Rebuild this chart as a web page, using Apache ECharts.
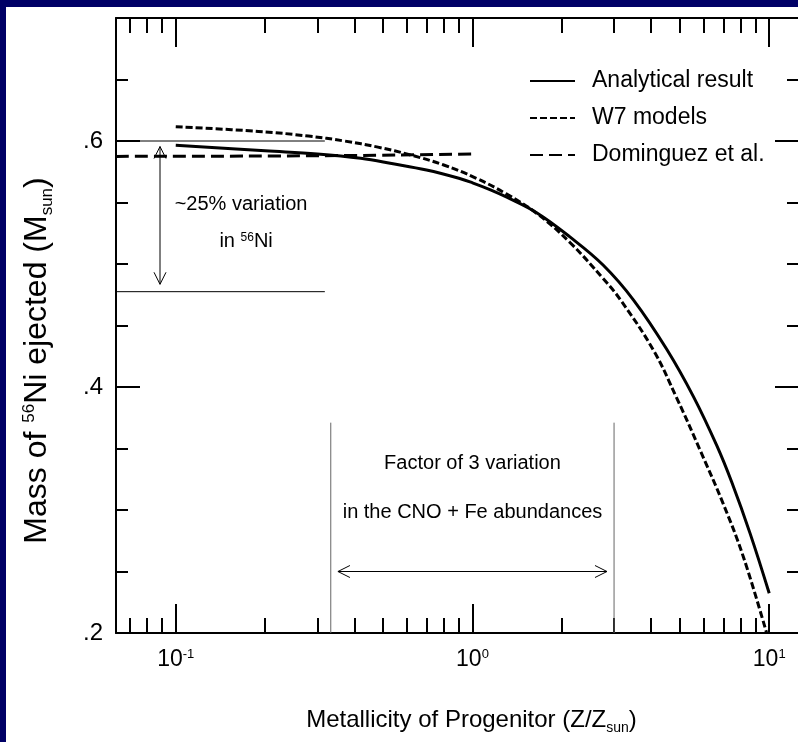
<!DOCTYPE html>
<html><head><meta charset="utf-8">
<script src="https://cdn.jsdelivr.net/npm/echarts@6/dist/echarts.min.js"></script>
<style>
html,body{margin:0;padding:0;width:798px;height:742px;overflow:hidden;background:#000066;}
#c{position:absolute;left:6px;top:7px;width:800px;height:735px;background:#fff;}
</style></head><body><div id="c"></div>
<script>
// ---------- data ----------
const xMin = 0.0629, xMax = 12.6;
const yMin = 0.2, yMax = 0.7;
const xMajorTicks = [0.1, 1, 10];
const xMinorTicks = [0.07,0.08,0.09,0.2,0.3,0.4,0.5,0.6,0.7,0.8,0.9,2,3,4,5,6,7,8,9];
const yMajorStep = 0.2, yMinorStep = 0.05;
const seriesNames = ['Analytical result', 'W7 models', 'Dominguez et al.'];

const analyticX = [0.1,0.2,0.3,0.42,0.54,0.7,0.9,1.0,1.15,1.3,1.65,2.13,2.76,3.49,4.52,5.56,6.66,7.48,8.62,10];
const analyticY = [0.5965,0.592,0.5895,0.586,0.5815,0.5764,0.5697,0.566,0.5603,0.5545,0.5415,0.522,0.499,0.4707,0.4305,0.392,0.3523,0.3225,0.281,0.2323];

const w7X = [0.1,0.19,0.28,0.37,0.48,0.62,0.8,1.03,1.3,1.65,2.13,2.76,3.15,4.07,4.88,5.84,7.0,8.18,9.8];
const w7Y = [0.6116,0.6078,0.604,0.600,0.595,0.5886,0.5805,0.5697,0.557,0.541,0.5175,0.488,0.471,0.430,0.391,0.349,0.305,0.262,0.2];

const domX = [0.0629, 0.3, 1.0];
const domY = [0.5875, 0.588, 0.5895];

// annotation segments [x1, y1, x2, y2]
const refLines = [[0.0629,0.6,0.318,0.6],[0.0629,0.4775,0.318,0.4775]];
const rangeLines = [[0.333,0.2,0.333,0.371],[3,0.2,3,0.371]];
const arrowLines = [[0.0885,0.5955,0.0885,0.4835],[0.352,0.25,2.84,0.25]];

const noteTexts = ['~25% variation', 'in {sup|56}Ni', 'Factor of 3 variation', 'in the CNO + Fe abundances'];
const noteX = [0.166, 0.1726, 1.0, 1.0];
const noteY = [0.548, 0.518, 0.338, 0.2976];

// ---------- chart ----------
const FONT = '"Liberation Sans",Arial,sans-serif';
const zip = (a, b) => a.map((v, i) => [v, b[i]]);

function xAxisDef(pos, major) {
  const vals = major ? xMajorTicks : xMinorTicks;
  const ax = {
    type: 'log', logBase: 10, position: pos, min: xMin, max: xMax,
    axisLine: { show: major, onZero: false, lineStyle: { color: '#000', width: 2 } },
    axisTick: { show: true, inside: true, length: major ? 29 : 15, customValues: vals,
                lineStyle: { color: '#000', width: 2 } },
    axisLabel: { show: false },
    splitLine: { show: false }, minorTick: { show: false }, silent: true
  };
  if (major && pos === 'bottom') {
    ax.axisLabel = {
      show: true, customValues: xMajorTicks, margin: 15, color: '#000',
      formatter: v => '{b|10}{e|' + Math.round(Math.log10(v)) + '}',
      rich: {
        b: { fontSize: 23, fontFamily: FONT, color: '#000', lineHeight: 25, verticalAlign: 'top' },
        e: { fontSize: 13, fontFamily: FONT, color: '#000', lineHeight: 13, verticalAlign: 'top' }
      }
    };
    ax.name = '{m|Metallicity of Progenitor (Z/Z}{s|sun}{m|)}';
    ax.nameLocation = 'middle';
    ax.nameGap = 75;
    ax.nameTextStyle = {
      padding: [0, 0, 0, 28],
      rich: {
        m: { fontSize: 24, fontFamily: FONT, color: '#000', lineHeight: 26, verticalAlign: 'top' },
        s: { fontSize: 14, fontFamily: FONT, color: '#000', lineHeight: 14, verticalAlign: 'top', padding: [13, 0, 0, 0] }
      }
    };
  }
  return ax;
}

function yAxisDef(pos, major) {
  const ax = {
    type: 'value', position: pos, min: yMin, max: yMax,
    interval: major ? yMajorStep : yMinorStep,
    axisLine: { show: major, onZero: false, lineStyle: { color: '#000', width: 2 } },
    axisTick: { show: true, inside: true, length: major ? 24 : 12, lineStyle: { color: '#000', width: 2 } },
    axisLabel: { show: false },
    splitLine: { show: false }, silent: true
  };
  if (major && pos === 'left') {
    ax.axisLabel = {
      show: true, margin: 13, color: '#000', fontSize: 24, fontFamily: FONT,
      showMaxLabel: false,
      formatter: v => '.' + Math.round(v * 10)
    };
    ax.name = '{m|Mass of }{p|56}{m|Ni ejected (M}{s|sun}{m|)}';
    ax.nameLocation = 'middle';
    ax.nameGap = 61;
    ax.nameTextStyle = {
      padding: [0, 70, 0, 0],
      rich: {
        m: { fontSize: 32, fontFamily: FONT, color: '#000', lineHeight: 34, verticalAlign: 'top' },
        p: { fontSize: 17, fontFamily: FONT, color: '#000', lineHeight: 17, verticalAlign: 'top' },
        s: { fontSize: 17, fontFamily: FONT, color: '#000', lineHeight: 17, verticalAlign: 'top', padding: [18, 0, 0, 0] }
      }
    };
  }
  return ax;
}

function segRenderer(color, heads) {
  return function (params, api) {
    const a = api.coord([api.value(0), api.value(1)]);
    const b = api.coord([api.value(2), api.value(3)]);
    const children = [{
      type: 'line', shape: { x1: a[0], y1: a[1], x2: b[0], y2: b[1] },
      style: { stroke: color, lineWidth: 1 }
    }];
    if (heads) {
      const dx = b[0] - a[0], dy = b[1] - a[1];
      const len = Math.sqrt(dx * dx + dy * dy);
      const ux = dx / len, uy = dy / len, nx = -uy, ny = ux;
      const L = 12, W = 6;
      [[b, 1], [a, -1]].forEach(([p, s]) => {
        children.push({
          type: 'polyline',
          shape: { points: [
            [p[0] - s * ux * L + nx * W, p[1] - s * uy * L + ny * W],
            [p[0], p[1]],
            [p[0] - s * ux * L - nx * W, p[1] - s * uy * L - ny * W]
          ] },
          style: { stroke: color, lineWidth: 1, fill: null }
        });
      });
    }
    return { type: 'group', children };
  };
}

const chart = echarts.init(document.getElementById('c'), null, { renderer: 'canvas' });
chart.setOption({
  animation: false,
  backgroundColor: '#fff',
  textStyle: { fontFamily: FONT },
  grid: { left: 110, right: 7, top: 11, bottom: 109, containLabel: false, outerBoundsMode: 'none' },
  xAxis: [xAxisDef('bottom', true), xAxisDef('bottom', false), xAxisDef('top', true), xAxisDef('top', false)],
  yAxis: [yAxisDef('left', true), yAxisDef('left', false), yAxisDef('right', true), yAxisDef('right', false)],
  legend: {
    data: seriesNames, orient: 'vertical', left: 518, top: 56,
    itemWidth: 45, itemHeight: 14, itemGap: 11, selectedMode: false,
    textStyle: { fontSize: 23, lineHeight: 26, fontFamily: FONT, color: '#000', padding: [0, 0, 0, 12] },
    itemStyle: { opacity: 0 },
    lineStyle: { width: 2, opacity: 1 }
  },
  series: [
    { name: seriesNames[0], type: 'line', data: zip(analyticX, analyticY), smooth: 0.4, symbol: 'none',
      color: '#000', lineStyle: { color: '#000', width: 3 }, z: 5 },
    { name: seriesNames[1], type: 'line', data: zip(w7X, w7Y), smooth: 0.4, symbol: 'none',
      color: '#000', lineStyle: { color: '#000', width: 3, type: [7, 3] }, z: 4 },
    { name: seriesNames[2], type: 'line', data: zip(domX, domY), smooth: true, symbol: 'none',
      color: '#000', lineStyle: { color: '#000', width: 3, type: [13, 6] }, z: 4 },
    { name: 'refLines', type: 'custom', data: refLines, renderItem: segRenderer('#000', false), silent: true, z: 3 },
    { name: 'rangeLines', type: 'custom', data: rangeLines, renderItem: segRenderer('#666', false), silent: true, z: 3 },
    { name: 'arrows', type: 'custom', data: arrowLines, renderItem: segRenderer('#000', true), silent: true, z: 3 },
    { name: 'notes', type: 'scatter', symbolSize: 0, silent: true, z: 6,
      itemStyle: { opacity: 1, color: '#000' },
      data: noteX.map((x, i) => [x, noteY[i], i]),
      label: {
        show: true, position: 'inside', color: '#000', opacity: 1, fontSize: 20, fontFamily: FONT,
        textBorderWidth: 0,
        formatter: p => noteTexts[p.data[2]],
        rich: { sup: { fontSize: 12, fontFamily: FONT, color: '#000', verticalAlign: 'top', lineHeight: 12 } }
      }
    }
  ]
});
</script></body></html>
